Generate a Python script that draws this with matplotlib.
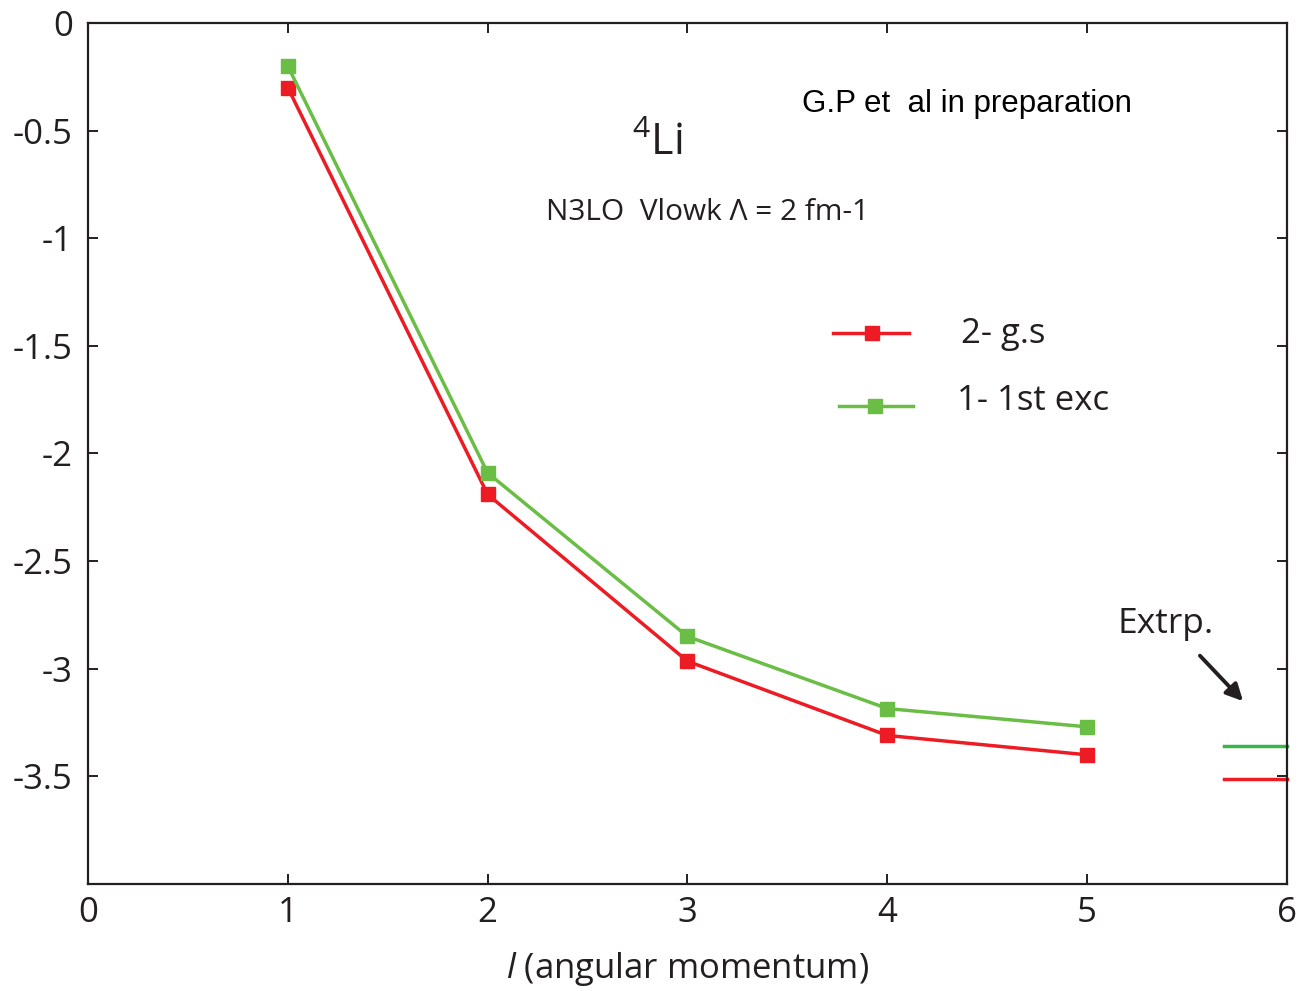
import matplotlib
matplotlib.use("Agg")
import matplotlib.pyplot as plt

plt.rcParams['font.family'] = ['Open Sans', 'DejaVu Sans']
plt.rcParams['mathtext.fontset'] = 'custom'
plt.rcParams['mathtext.rm'] = 'Open Sans'
plt.rcParams['mathtext.it'] = 'Open Sans:italic'

# Data
l_values = [1, 2, 3, 4, 5]
gs_energy = [-0.30, -2.19, -2.965, -3.31, -3.40]     # 2- g.s
exc_energy = [-0.20, -2.09, -2.85, -3.185, -3.27]    # 1- 1st exc
extrap_x = [5.685, 6.0]
gs_extrap = -3.51
exc_extrap = -3.36
x_ticks = [0, 1, 2, 3, 4, 5, 6]
y_ticks = [0, -0.5, -1, -1.5, -2, -2.5, -3, -3.5, -4]
y_tick_labels = ['0', '-0.5', '-1', '-1.5', '-2', '-2.5', '-3', '-3.5', '']

RED = '#ed1c24'
GREEN = '#6abd45'
GREEN2 = '#39b54a'
DARK = '#231f20'

fig = plt.figure(figsize=(13.01, 9.91), dpi=100)
ax = fig.add_axes([0.0676, 0.108, 0.9216, 0.8688])

ax.plot(l_values, gs_energy, color=RED, lw=2.5, marker='s', ms=10, zorder=3)
ax.plot(l_values, exc_energy, color=GREEN, lw=2.5, marker='s', ms=10, zorder=3)
ax.plot(extrap_x, [exc_extrap, exc_extrap], color=GREEN2, lw=2.5, clip_on=False)
ax.plot(extrap_x, [gs_extrap, gs_extrap], color=RED, lw=2.5, clip_on=False)

ax.set_xlim(0, 6)
ax.set_ylim(-4, 0)
ax.set_xticks(x_ticks)
ax.set_xticklabels([str(t) for t in x_ticks])
ax.set_yticks(y_ticks)
ax.set_yticklabels(y_tick_labels)

for s in ax.spines.values():
    s.set_linewidth(1.6)
    s.set_color(DARK)
ax.tick_params(direction='in', length=7, width=1.4, top=True, right=True,
               labelsize=25, colors=DARK)
ax.tick_params(axis='y', pad=11)
ax.tick_params(axis='x', pad=9)

ax.set_xlabel(r'$\mathit{l}$ (angular momentum)', fontsize=25, labelpad=14, color=DARK)

# Legend drawn manually
ax.plot([3.73, 4.11], [-1.44, -1.44], color=RED, lw=2.5)
ax.plot([3.925], [-1.44], color=RED, marker='s', ms=10)
ax.text(4.37, -1.445, '2- g.s', fontsize=25, va='center', ha='left', color=DARK)
ax.plot([3.76, 4.13], [-1.78, -1.78], color=GREEN, lw=2.5)
ax.plot([3.94], [-1.78], color=GREEN, marker='s', ms=10)
ax.text(4.35, -1.755, '1- 1st exc', fontsize=25, va='center', ha='left', color=DARK)

# Annotations
ax.text(2.85, -0.56, r'$^{4}$Li', fontsize=31, ha='center', va='center', color=DARK)
ax.text(3.10, -0.88, 'N3LO  Vlowk Λ = 2 fm-1', fontsize=21.5, ha='center', va='center', color=DARK)
ax.text(4.40, -0.375, 'G.P et  al in preparation', fontsize=22.5, ha='center', va='center',
        family='Liberation Sans', color='black')
ax.text(5.15, -2.79, 'Extrp.', fontsize=25.5, ha='left', va='center', color=DARK)
ax.annotate('', xy=(5.79, -3.16), xytext=(5.555, -2.93),
            arrowprops=dict(arrowstyle='-|>,head_length=1.0,head_width=0.5', color=DARK, lw=2.8))

fig.savefig('out.png', dpi=100)
